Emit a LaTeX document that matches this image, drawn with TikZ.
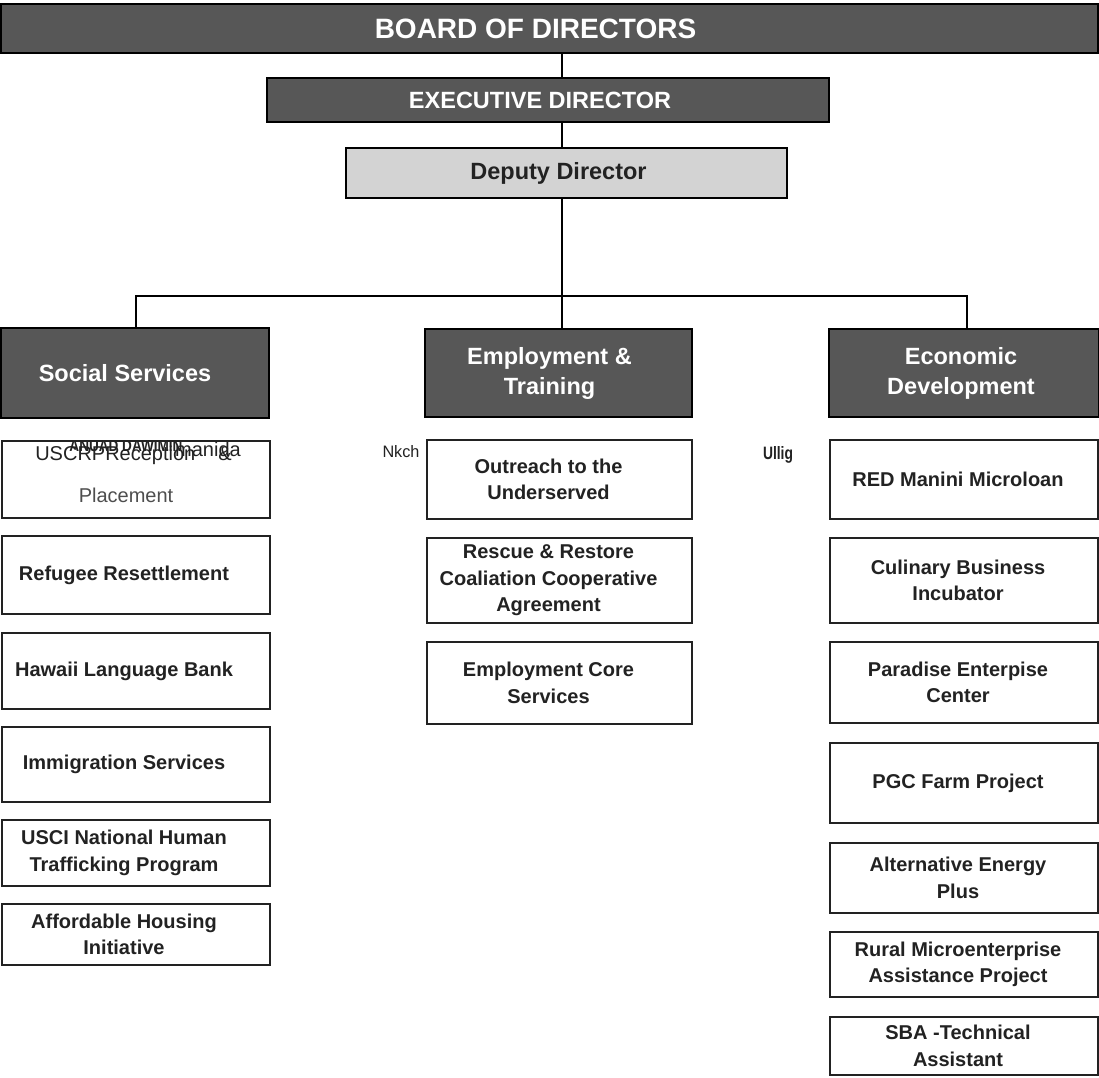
\documentclass[tikz,border=0pt]{standalone}
\usepackage{fontspec}
\setmainfont{Liberation Sans}
\usepackage{graphicx}

\definecolor{boxgray}{HTML}{575757}
\definecolor{deputygray}{HTML}{D3D3D3}
\definecolor{inkgray}{HTML}{222222}

\tikzset{
  head/.style = {draw=black, fill=boxgray, line width=1.6pt, inner sep=0pt},
  headtxt/.style = {text=white, font=\fontsize{23.5}{30}\selectfont\bfseries, align=center, inner sep=0pt},
  item/.style = {draw=inkgray, line width=1.5pt, inner sep=0pt, fill=white},
  txt/.style = {text=inkgray, font=\fontsize{20}{26.5}\selectfont\bfseries, align=center, inner sep=0pt},
  ltxt/.style = {txt, xshift=-12pt},
  mtxt/.style = {txt, xshift=-11pt},
  rtxt/.style = {txt, xshift=-6pt},
  link/.style = {draw=black, line width=2pt},
}

\begin{document}
\begin{tikzpicture}[x=1pt, y=-1pt]
\useasboundingbox (0,0) rectangle (1099,1077);
\fill[white] (0,0) rectangle (1099,1077);

% top of the chart
\node[head, minimum width=1097pt, minimum height=49pt] (board) at (549.5,28.5) {};
\node[headtxt, font=\fontsize{28}{30}\selectfont\bfseries, xshift=-14pt] (board-t) at (board) {BOARD OF DIRECTORS};
\node[head, minimum width=562pt, minimum height=44pt] (exec) at (548,100) {};
\node[headtxt, xshift=-8pt] (exec-t) at (exec) {EXECUTIVE DIRECTOR};
\node[head, fill=deputygray, minimum width=441pt, minimum height=50pt] (dep) at (566.5,173) {};
\node[headtxt, text=inkgray, xshift=-8pt] (dep-t) at (dep) {Deputy Director};
\coordinate (bus) at (562,296);

% divisions
\node[head, minimum width=268pt, minimum height=90pt] (ss) at (135,373) {};
\node[headtxt, xshift=-10pt] (ss-t) at (ss) {Social Services};
\node[head, minimum width=267pt, minimum height=88pt] (et) at (558.5,373) {};
\node[headtxt, xshift=-9pt] (et-t) at (et) {Employment \&\\Training};
\node[head, minimum width=270pt, minimum height=88pt] (ed) at (964,373) {};
\node[headtxt, xshift=-3pt] (ed-t) at (ed) {Economic\\Development};

\draw[link] (board.south -| bus) -- (exec.north -| bus);
\draw[link] (exec.south -| bus) -- (dep.north -| bus);
\draw[link] (dep.south -| bus) -- (et.north -| bus);
\draw[link] ([xshift=1pt]ss.north) |- (bus) -| ([xshift=3pt]ed.north);

% social services
\node[item, minimum width=268pt, minimum height=77pt] (ss1) at (136,479.5) {};
\node[text=inkgray, inner sep=0pt] (ss1-g) at (126,446) {\resizebox{113pt}{11pt}{\bfseries ANUAD DAWIMIN}};
\node[text=inkgray, inner sep=0pt, font=\fontsize{20}{24}\selectfont] (ss1-h) at (208,449) {manida};
\node[text=inkgray, inner sep=0pt, font=\fontsize{20}{24}\selectfont] (ss1-a) at (133.5,455) {USCRPReception\hspace*{23pt}\&};
\node[text=inkgray!80, inner sep=0pt, font=\fontsize{20}{24}\selectfont] (ss1-b) at (126,495) {Placement};
\node[item, minimum width=268pt, minimum height=78pt] (ss2) at (136,575) {};
\node[ltxt] (ss2-t) at (ss2) {Refugee Resettlement};
\node[item, minimum width=268pt, minimum height=76pt] (ss3) at (136,671) {};
\node[ltxt] (ss3-t) at (ss3) {Hawaii Language Bank};
\node[item, minimum width=268pt, minimum height=75pt] (ss4) at (136,764.5) {};
\node[ltxt] (ss4-t) at (ss4) {Immigration Services};
\node[item, minimum width=268pt, minimum height=66pt] (ss5) at (136,853) {};
\node[ltxt] (ss5-t) at (ss5) {USCI National Human\\Trafficking Program};
\node[item, minimum width=268pt, minimum height=61pt] (ss6) at (136,934.5) {};
\node[ltxt] (ss6-t) at (ss6) {Affordable Housing\\Initiative};

% employment and training
\node[text=inkgray, inner sep=0pt] (et0) at (401,452) {\resizebox{37pt}{12pt}{Nkch}};
\node[item, minimum width=265pt, minimum height=79pt] (et1) at (559.5,479.5) {};
\node[mtxt] (et1-t) at (et1) {Outreach to the\\Underserved};
\node[item, minimum width=265pt, minimum height=85pt] (et2) at (559.5,580.5) {};
\node[mtxt] (et2-t) at (et2) {Rescue \& Restore\\Coaliation Cooperative\\Agreement};
\node[item, minimum width=265pt, minimum height=82pt] (et3) at (559.5,683) {};
\node[mtxt] (et3-t) at (et3) {Employment Core\\Services};

% economic development
\node[text=inkgray, inner sep=0pt] (ed0) at (778,455) {\resizebox{30pt}{13pt}{\bfseries Ullig}};
\node[item, minimum width=268pt, minimum height=79pt] (ed1) at (964,479.5) {};
\node[rtxt] (ed1-t) at (ed1) {RED Manini Microloan};
\node[item, minimum width=268pt, minimum height=85pt] (ed2) at (964,580.5) {};
\node[rtxt] (ed2-t) at (ed2) {Culinary Business\\Incubator};
\node[item, minimum width=268pt, minimum height=81pt] (ed3) at (964,682.5) {};
\node[rtxt] (ed3-t) at (ed3) {Paradise Enterpise\\Center};
\node[item, minimum width=268pt, minimum height=80pt] (ed4) at (964,783) {};
\node[rtxt] (ed4-t) at (ed4) {PGC Farm Project};
\node[item, minimum width=268pt, minimum height=70pt] (ed5) at (964,878) {};
\node[rtxt] (ed5-t) at (ed5) {Alternative Energy\\Plus};
\node[item, minimum width=268pt, minimum height=65pt] (ed6) at (964,964.5) {};
\node[rtxt] (ed6-t) at (ed6) {Rural Microenterprise\\Assistance Project};
\node[item, minimum width=268pt, minimum height=58pt] (ed7) at (964,1046) {};
\node[rtxt] (ed7-t) at (ed7) {SBA -Technical\\Assistant};
\end{tikzpicture}
\end{document}
